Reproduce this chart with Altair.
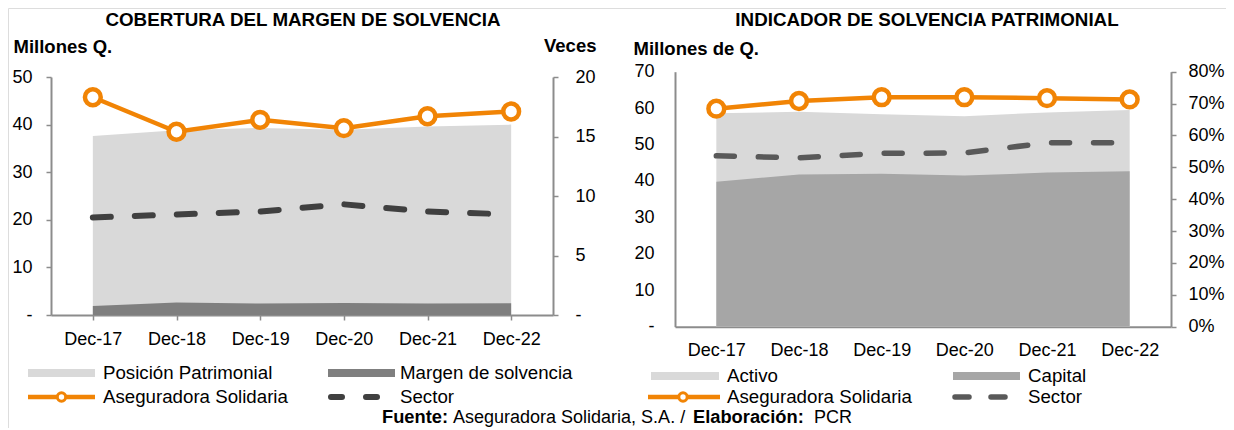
import altair as alt
import pandas as pd

# ------------------------------------------------------------------ data
categories = ["Dec-17", "Dec-18", "Dec-19", "Dec-20", "Dec-21", "Dec-22"]

# COBERTURA DEL MARGEN DE SOLVENCIA
posicion_patrimonial = [37.6, 38.8, 39.3, 38.9, 39.6, 40.0]      # Millones Q.
margen_solvencia = [1.9, 2.6, 2.4, 2.5, 2.4, 2.45]              # Millones Q.
cobertura_aseguradora = [18.3, 15.4, 16.4, 15.7, 16.7, 17.1]     # Veces
cobertura_sector = [8.2, 8.45, 8.7, 9.3, 8.7, 8.45]              # Veces

# INDICADOR DE SOLVENCIA PATRIMONIAL
activo = [58.6, 59.0, 58.3, 57.8, 58.8, 59.5]                    # Millones de Q.
capital = [39.8, 41.8, 42.0, 41.5, 42.3, 42.7]                   # Millones de Q.
indicador_aseguradora = [0.684, 0.708, 0.720, 0.720, 0.717, 0.713]
indicador_sector = [0.536, 0.530, 0.544, 0.545, 0.577, 0.577]

ticks_millones_q = [0, 10, 20, 30, 40, 50]
ticks_veces = [0, 5, 10, 15, 20]
ticks_millones_de_q = [0, 10, 20, 30, 40, 50, 60, 70]
ticks_pct = [0, 0.1, 0.2, 0.3, 0.4, 0.5, 0.6, 0.7, 0.8]

# ------------------------------------------------------------------ style
FONT = "Liberation Sans"
ORANGE = "#F18405"
LIGHT = "#D9D9D9"
DARK = "#7F7F7F"
MID = "#A6A6A6"
SECTOR_L = "#404040"
SECTOR_R = "#595959"
AXIS_GRAY = "#8C8C8C"
W, H = 1218, 420

L_X = [43, 545]
L_Y = [307, 69]
R_X = [667, 1163]
R_Y = [318.7, 63.7]

common = dict(domainColor=AXIS_GRAY, domainWidth=2, tickColor=AXIS_GRAY, tickWidth=1.5,
              labelFont=FONT, labelFontSize=18, labelColor="#000000", grid=False,
              titleFont=FONT, titleFontSize=18.5, titleFontWeight="bold", titleColor="#000000")
zero_dash = "datum.value == 0 ? '-' : datum.label"

df_l = pd.DataFrame({"cat": categories, "pos": posicion_patrimonial, "mar": margen_solvencia,
                     "aseg": cobertura_aseguradora, "sector": cobertura_sector})
df_r = pd.DataFrame({"cat": categories, "act": activo, "cap": capital,
                     "aseg": indicador_aseguradora, "sector": indicador_sector})


def cat_x(rng, axis):
    return alt.X("cat:N", title=None,
                 scale=alt.Scale(type="point", domain=categories, range=rng, padding=0.5),
                 axis=axis)


# ------------------------------------------------------------------ left panel
ax_lx = alt.Axis(orient="bottom", offset=-(H - L_Y[0]), tickSize=5, labelPadding=10,
                 labelAngle=0, **common)
ax_ll = alt.Axis(orient="left", offset=-L_X[0], values=ticks_millones_q, labelExpr=zero_dash,
                 tickSize=5, labelPadding=14, title="Millones Q.", titleAngle=0,
                 titleAlign="left", titleBaseline="middle", titleX=-38, titleY=38, **common)
ax_lr = alt.Axis(orient="right", offset=-(W - L_X[1]), values=ticks_veces, labelExpr=zero_dash,
                 tickSize=5, labelPadding=17, title="Veces", titleAngle=0,
                 titleAlign="right", titleBaseline="middle", titleX=43, titleY=37, **common)
sc_ll = alt.Scale(domain=[0, 50], range=L_Y, nice=False, zero=True)
sc_lr = alt.Scale(domain=[0, 20], range=L_Y, nice=False, zero=True)

xl = cat_x(L_X, ax_lx)
l_areas = alt.layer(
    alt.Chart(df_l).mark_area(color=LIGHT, opacity=1).encode(
        x=xl, y=alt.Y("pos:Q", scale=sc_ll, axis=ax_ll, stack=None)),
    alt.Chart(df_l).mark_area(color=DARK, opacity=1).encode(
        x=xl, y=alt.Y("mar:Q", scale=sc_ll, axis=ax_ll, stack=None)),
)
l_lines = alt.layer(
    alt.Chart(df_l).mark_line(color=SECTOR_L, strokeWidth=6, strokeDash=[18, 24], strokeCap="round").encode(
        x=xl, y=alt.Y("sector:Q", scale=sc_lr, axis=ax_lr)),
    alt.Chart(df_l).mark_line(color=ORANGE, strokeWidth=4.5).encode(
        x=xl, y=alt.Y("aseg:Q", scale=sc_lr, axis=ax_lr)),
    alt.Chart(df_l).mark_point(shape="circle", filled=True, fill="white", stroke=ORANGE,
                               strokeWidth=4.5, size=250, opacity=1).encode(
        x=xl, y=alt.Y("aseg:Q", scale=sc_lr, axis=ax_lr)),
)
left = alt.layer(l_areas, l_lines).resolve_scale(y="independent")

# ------------------------------------------------------------------ right panel
ax_rx = alt.Axis(orient="bottom", offset=-(H - R_Y[0]), ticks=False, tickSize=0, labelPadding=15,
                 labelAngle=0, **common)
ax_rl = alt.Axis(orient="left", offset=-R_X[0], values=ticks_millones_de_q, labelExpr=zero_dash,
                 ticks=False, tickSize=0, labelPadding=21, title="Millones de Q.", titleAngle=0,
                 titleAlign="left", titleBaseline="middle", titleX=-42, titleY=40, **common)
ax_rr = alt.Axis(orient="right", offset=-(W - R_X[1]), values=ticks_pct, format=".0%",
                 tickSize=5, labelPadding=12, title="", **common)
sc_rl = alt.Scale(domain=[0, 70], range=R_Y, nice=False, zero=True)
sc_rr = alt.Scale(domain=[0, 0.8], range=R_Y, nice=False, zero=True)

xr = cat_x(R_X, ax_rx)
r_areas = alt.layer(
    alt.Chart(df_r).mark_area(color=LIGHT, opacity=1).encode(
        x=xr, y=alt.Y("act:Q", scale=sc_rl, axis=ax_rl, stack=None)),
    alt.Chart(df_r).mark_area(color=MID, opacity=1).encode(
        x=xr, y=alt.Y("cap:Q", scale=sc_rl, axis=ax_rl, stack=None)),
)
r_lines = alt.layer(
    alt.Chart(df_r).mark_line(color=SECTOR_R, strokeWidth=5.5, strokeDash=[18, 24], strokeCap="round").encode(
        x=xr, y=alt.Y("sector:Q", scale=sc_rr, axis=ax_rr)),
    alt.Chart(df_r).mark_line(color=ORANGE, strokeWidth=4.5).encode(
        x=xr, y=alt.Y("aseg:Q", scale=sc_rr, axis=ax_rr)),
    alt.Chart(df_r).mark_point(shape="circle", filled=True, fill="white", stroke=ORANGE,
                               strokeWidth=4.5, size=250, opacity=1).encode(
        x=xr, y=alt.Y("aseg:Q", scale=sc_rr, axis=ax_rr)),
)
right = alt.layer(r_areas, r_lines).resolve_scale(y="independent")

# ------------------------------------------------------------------ titles, legends, source
one = pd.DataFrame({"k": [0]})


def text(label, x, y, weight="normal", align="left", size=18.7):
    return alt.Chart(one).mark_text(text=label, font=FONT, fontSize=size, fontWeight=weight,
                                    align=align, baseline="middle", color="#000000").encode(
        x=alt.value(x), y=alt.value(y))


def swatch(x1, x2, y1, y2, color):
    return alt.Chart(one).mark_rect(color=color, opacity=1).encode(
        x=alt.value(x1), x2=alt.value(x2), y=alt.value(y1), y2=alt.value(y2))


def seg(x1, x2, y, color, width, dash=None):
    if dash:
        m = alt.Chart(one).mark_rule(color=color, strokeWidth=width, strokeDash=dash, strokeCap="round")
    else:
        m = alt.Chart(one).mark_rule(color=color, strokeWidth=width)
    return m.encode(x=alt.value(x1), x2=alt.value(x2), y=alt.value(y))


def dot(x, y):
    return alt.Chart(one).mark_point(shape="circle", filled=True, fill="white", stroke=ORANGE,
                                     strokeWidth=3, size=70, opacity=1).encode(
        x=alt.value(x), y=alt.value(y))


decor = [
    text("COBERTURA DEL MARGEN DE SOLVENCIA", 295, 12, "bold", "center", 18.8),
    text("INDICADOR DE SOLVENCIA PATRIMONIAL", 919, 12, "bold", "center", 18.8),
    # left legend
    swatch(20, 87, 361, 369, LIGHT),
    text("Posición Patrimonial", 95, 365),
    swatch(320, 387, 361, 369, DARK),
    text("Margen de solvencia", 392, 365),
    seg(20, 87, 389, ORANGE, 4.5),
    dot(53.5, 389),
    text("Aseguradora Solidaria", 95, 389),
    seg(323, 369, 389, SECTOR_L, 6, [11, 24]),
    text("Sector", 392, 389),
    # right legend
    swatch(643, 711, 364, 372, LIGHT),
    text("Activo", 719, 368),
    swatch(945, 1012, 364, 372, MID),
    text("Capital", 1020, 368),
    seg(640, 712, 389, ORANGE, 4.5),
    dot(675, 389),
    text("Aseguradora Solidaria", 719, 389),
    seg(947, 997, 389, SECTOR_R, 5.5, [14, 22]),
    text("Sector", 1020, 389),
    # source
    text("Fuente:", 374, 410, "bold", "left", 18.3),
    text("Aseguradora Solidaria, S.A. /", 445, 410, "normal", "left", 18),
    text("Elaboración:", 685, 410, "bold", "left", 18.3),
    text("PCR", 806, 410, "normal", "left", 18),
]

chart = alt.layer(left, right, *decor).resolve_scale(
    x="independent", y="independent"
).properties(
    width=W, height=H, padding=0, autosize=alt.AutoSizeParams(type="none")
).configure_view(strokeWidth=0).configure(font=FONT)

chart.save("out.html", embed_options={"renderer": "svg", "actions": False})
